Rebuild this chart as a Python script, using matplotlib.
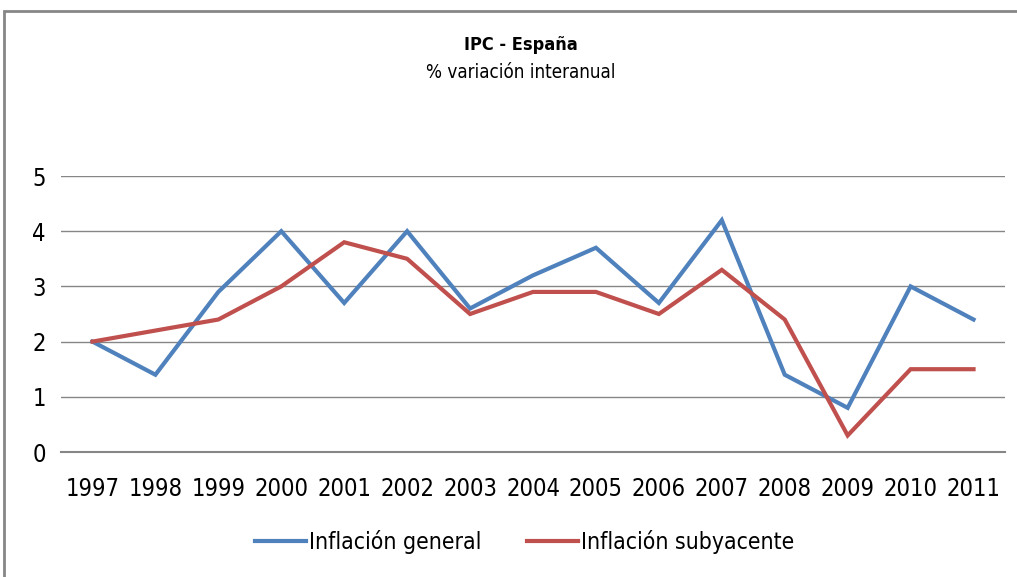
"""IPC - España: inflación general vs subyacente (1997-2011)."""

import matplotlib
matplotlib.use("Agg")

import matplotlib.pyplot as plt
from matplotlib.patches import Rectangle

plt.rcParams["font.family"] = ["DejaVu Sans"]
plt.rcParams["font.stretch"] = "condensed"

years = ["1997", "1998", "1999", "2000", "2001", "2002", "2003", "2004",
         "2005", "2006", "2007", "2008", "2009", "2010", "2011"]
general = [2.0, 1.4, 2.9, 4.0, 2.7, 4.0, 2.6, 3.2, 3.7, 2.7, 4.2, 1.4, 0.8, 3.0, 2.4]
subyacente = [2.0, 2.2, 2.4, 3.0, 3.8, 3.5, 2.5, 2.9, 2.9, 2.5, 3.3, 2.4, 0.3, 1.5, 1.5]
y_ticks = [0, 1, 2, 3, 4, 5]

BLUE = "#4F81BD"
RED = "#C0504D"
GRID = "#868686"

W, H = 1017, 577
fig = plt.figure(figsize=(W / 100, H / 100), dpi=100)
ax = fig.add_axes([61 / W, 1 - 452 / H, (1005 - 61) / W, (452 - 176) / H])

x = range(len(years))
ax.plot(x, general, color=BLUE, linewidth=3.0, label="Inflación general",
        solid_joinstyle="miter")
ax.plot(x, subyacente, color=RED, linewidth=3.0, label="Inflación subyacente",
        solid_joinstyle="miter")

ax.set_xlim(-0.5, len(years) - 0.5)
ax.set_ylim(0, 5)
ax.set_yticks(y_ticks)
ax.set_xticks(list(x))
ax.set_xticklabels(years)
ax.tick_params(axis="x", length=0, pad=18, labelsize=17)
ax.tick_params(axis="y", length=0, pad=11, labelsize=17)

ax.grid(axis="y", color=GRID, linewidth=1.0)
ax.set_axisbelow(True)
for side in ("top", "right", "left"):
    ax.spines[side].set_visible(False)
ax.spines["bottom"].set_color(GRID)
ax.spines["bottom"].set_linewidth(1.5)

fig.text(0.512, 1 - 45 / H, "IPC - España", ha="center", va="center",
         fontsize=13, fontweight="bold")
fig.text(0.512, 1 - 73 / H, "% variación interanual", ha="center", va="center",
         fontsize=13.5)

fig.legend(loc="center", bbox_to_anchor=(0.516, 1 - 542 / H), ncol=2,
           frameon=False, fontsize=16.5, handlelength=2.2, handletextpad=0.15,
           columnspacing=2.0)

# outer chart frame (only top and left edges are visible)
fig.add_artist(Rectangle((4 / W, -0.1), 1.2, (H - 11) / H + 0.1,
                         transform=fig.transFigure, fill=False,
                         edgecolor=GRID, linewidth=2))

fig.savefig("out.png", dpi=100, facecolor="white")
